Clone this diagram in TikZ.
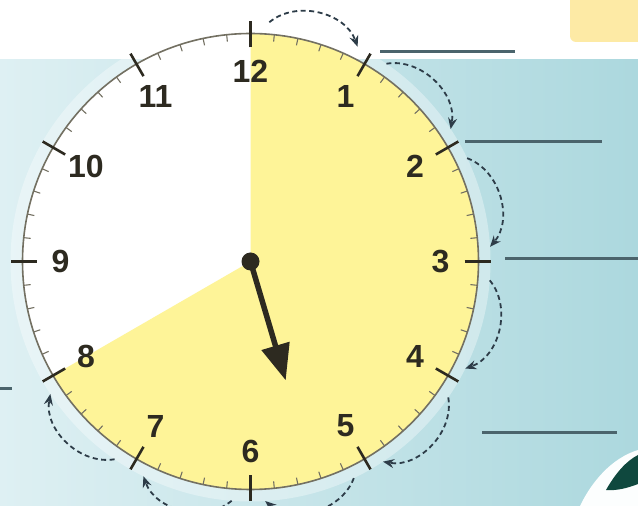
\documentclass[tikz,border=0pt]{standalone}
\usepackage{fontspec}
\setmainfont{Liberation Sans}
\usetikzlibrary{arrows.meta}
\definecolor{clockyellow}{RGB}{254, 244, 152}
\definecolor{rim}{RGB}{115, 112, 98}
\definecolor{ink}{RGB}{45, 42, 32}
\definecolor{dash1}{RGB}{45, 60, 72}
\definecolor{blank1}{RGB}{75, 100, 108}
\definecolor{sea1}{RGB}{222, 240, 243}
\definecolor{sea2}{RGB}{172, 216, 222}
\definecolor{sun1}{RGB}{253, 234, 165}
\definecolor{leaf1}{RGB}{15, 72, 62}

\begin{document}
\begin{tikzpicture}[x=1pt, y=1pt,
  hourtick/.style={draw=ink, line width=2.6pt},
  mintick/.style={draw=rim, line width=1.1pt},
  numeral/.style={text=ink, font=\fontsize{32}{32}\selectfont\bfseries, inner sep=0pt},
  hop/.style={draw=dash1, line width=1.8pt, dash pattern=on 5pt off 3.5pt, -{Stealth[length=11pt, width=9pt]}},
  blank/.style={draw=blank1, line width=3pt},
  hand/.style={draw=ink, line width=5.5pt, -{Triangle[length=36pt, width=28pt]}}]
  \useasboundingbox (0,0) rectangle (638,506);
  \clip (0,0) rectangle (638,506);
  \fill[white] (0,0) rectangle (638,506);
  \shade[left color=sea1, right color=sea2] (0,0) rectangle (638,446);
  \fill[sun1, rounded corners=6pt] (570,464) rectangle (650,520);
  \fill[white!92!sea1] (580,0) .. controls (592,25) and (612,48) .. (638,56) -- (638,0) -- cycle;
  \fill[leaf1] (606,16) .. controls (615,32) and (626,45) .. (638,51) -- (638,22) .. controls (628,18) and (616,15) .. cycle;
  \draw[blank] (380,454) -- (515,454);
  \draw[blank] (465,364) -- (602,364);
  \draw[blank] (505,247) -- (638,247);
  \draw[blank] (482,73) -- (617,73);
  \draw[blank] (0,117) -- (12,117);
  \begin{scope}[shift={(250.5,244.5)}]
    \fill[white, opacity=.35] (0,0) circle (240);
    \fill[white] (0,0) circle (228);
    \fill[clockyellow] (0,0) -- (90:228) arc[start angle=90, end angle=-150, radius=228] -- cycle;
    \foreach \m in {0,...,59}
      \draw[mintick] (6*\m:228) -- (6*\m:221);
    \draw[rim, line width=1.6pt] (0,0) circle (228);
    \foreach \h in {1,...,12} {
      \draw[hourtick] ({90-30*\h}:214) -- ({90-30*\h}:240);
      \node[numeral] (n\h) at ({90-30*\h}:190) {\h};
    }
    \foreach \h [evaluate=\h as \a using 90-30*\h] in {0,...,7} {
      \coordinate (s\h) at (\a-4.5:240);
      \coordinate (e\h) at (\a-26.5:240);
      \draw[hop] (s\h) to[bend left=55] (e\h);
    }
    \node[circle, fill=ink, minimum size=18pt, inner sep=0pt] (pivot) at (0,0) {};
    \coordinate (tip) at (-73.5:124);
    \draw[hand] (pivot.center) -- (tip);
  \end{scope}
\end{tikzpicture}
\end{document}
